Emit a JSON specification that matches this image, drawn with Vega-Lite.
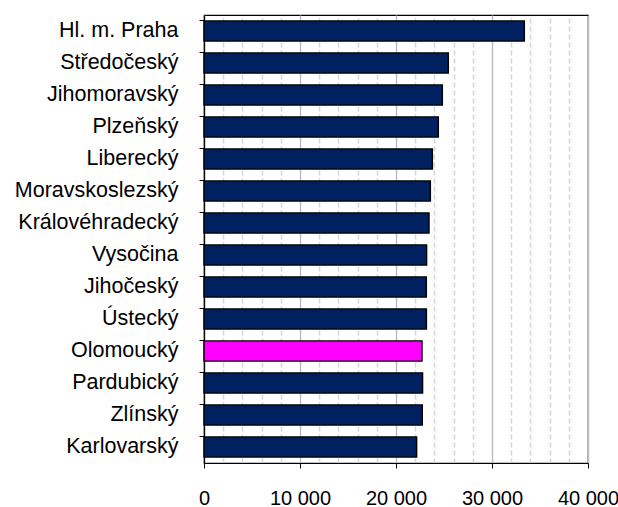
{
  "$schema": "https://vega.github.io/schema/vega-lite/v6.json",
  "width": 384,
  "height": 448,
  "autosize": "none",
  "padding": {"left": 204, "top": 15, "right": 30, "bottom": 44},
  "background": "white",
  "config": {
    "view": {"stroke": "black", "strokeWidth": 1.2},
    "font": "Liberation Sans"
  },
  "data": {
    "values": [
      {"kraj": "Hl. m. Praha", "mzda": 33370, "highlight": "ne"},
      {"kraj": "Středočeský", "mzda": 25450, "highlight": "ne"},
      {"kraj": "Jihomoravský", "mzda": 24830, "highlight": "ne"},
      {"kraj": "Plzeňský", "mzda": 24410, "highlight": "ne"},
      {"kraj": "Liberecký", "mzda": 23790, "highlight": "ne"},
      {"kraj": "Moravskoslezský", "mzda": 23580, "highlight": "ne"},
      {"kraj": "Královéhradecký", "mzda": 23440, "highlight": "ne"},
      {"kraj": "Vysočina", "mzda": 23190, "highlight": "ne"},
      {"kraj": "Jihočeský", "mzda": 23160, "highlight": "ne"},
      {"kraj": "Ústecký", "mzda": 23170, "highlight": "ne"},
      {"kraj": "Olomoucký", "mzda": 22710, "highlight": "ano"},
      {"kraj": "Pardubický", "mzda": 22770, "highlight": "ne"},
      {"kraj": "Zlínský", "mzda": 22740, "highlight": "ne"},
      {"kraj": "Karlovarský", "mzda": 22150, "highlight": "ne"}
    ]
  },
  "mark": {"type": "bar", "stroke": "black", "strokeWidth": 1.4},
  "encoding": {
    "y": {
      "field": "kraj",
      "type": "nominal",
      "sort": null,
      "title": null,
      "scale": {"paddingInner": 0.37, "paddingOuter": 0.185},
      "axis": {
        "bandPosition": 0,
        "domainColor": "black",
        "domainWidth": 1.2,
        "tickColor": "black",
        "tickSize": 5,
        "labelFontSize": 21.5,
        "labelColor": "black",
        "labelPadding": 21,
        "grid": false
      }
    },
    "x": {
      "field": "mzda",
      "type": "quantitative",
      "title": null,
      "scale": {"domain": [0, 40000], "nice": false},
      "axis": {
        "values": [0, 2000, 4000, 6000, 8000, 10000, 12000, 14000, 16000, 18000, 20000, 22000, 24000, 26000, 28000, 30000, 32000, 34000, 36000, 38000, 40000],
        "labelExpr": "datum.value % 10000 === 0 ? replace(format(datum.value, ','), ',', ' ') : ''",
        "labelFontSize": 20,
        "labelColor": "black",
        "labelPadding": 20,
        "labelFlush": false,
        "domainColor": "black",
        "domainWidth": 1.2,
        "tickColor": "black",
        "tickSize": 5,
        "tickOpacity": {"condition": {"test": "datum.value % 10000 === 0", "value": 1}, "value": 0},
        "grid": true,
        "gridColor": {"condition": {"test": "datum.value % 10000 === 0", "value": "#bfbfbf"}, "value": "#d4d4d4"},
        "gridDash": {"condition": {"test": "datum.value % 10000 === 0", "value": []}, "value": [5, 3]},
        "gridWidth": 1.5
      }
    },
    "fill": {
      "field": "highlight",
      "type": "nominal",
      "scale": {"domain": ["ne", "ano"], "range": ["#002060", "#ff00ff"]},
      "legend": null
    }
  }
}
